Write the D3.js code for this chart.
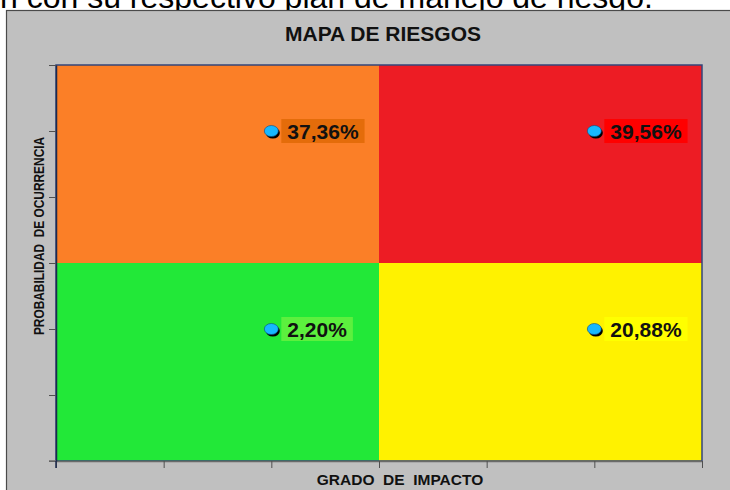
<!doctype html>
<html lang="es">

<head>
    <meta charset="utf-8">
    <title>Mapa de riesgos</title>
    <script src="https://cdn.jsdelivr.net/npm/d3@7"></script>
    <style>
        body {
            margin: 0;
            background: #ffffff;
        }

        svg {
            display: block;
            font-family: "Liberation Sans", Arial, sans-serif;
        }
    </style>
</head>

<body>
    <svg></svg>

    <script>
        // data
        var impacto = [2, 5, 2, 5];          // x value of each risk point
        var probabilidad = [5, 5, 2, 2];     // y value of each risk point
        var porcentajes = ["37,36%", "39,56%", "2,20%", "20,88%"];
        var axisMax = 6;
        var split = 3;                       // limit between low / high zones
        var tickValues = [0, 1, 2, 3, 4, 5, 6];

        // zones: [x from, x to, y from, y to]
        var zonas = [
            [0, split, split, axisMax],
            [split, axisMax, split, axisMax],
            [0, split, 0, split],
            [split, axisMax, 0, split]
        ];
        var zonaColors = ["#fb7f27", "#ed1c24", "#22e838", "#fff200"];
        var labelColors = ["#e46c0a", "#ff0000", "#5cf03e", "#ffff00"];

        var width = 730;
        var height = 490;

        var svg = d3.select('svg').attr('width', width).attr('height', height);

        // cut off sentence of the document above the chart
        svg.append('text')
            .attr('x', 0)
            .attr('y', 8)
            .attr('font-size', 32)
            .attr('fill', '#000')
            .text('n con su respectivo plan de manejo de riesgo.');

        // grey chart panel
        svg.append('rect')
            .attr('x', 6.5)
            .attr('y', 10.5)
            .attr('width', 740)
            .attr('height', 500)
            .attr('fill', '#c0c0c0')
            .attr('stroke', '#4a4a4a')
            .attr('stroke-width', 1.2);

        var xScale = d3.scaleLinear().domain([0, axisMax]).range([56, 702]);
        var yScale = d3.scaleLinear().domain([0, axisMax]).range([461, 65]);

        // coloured zones
        svg.append('g')
            .selectAll('rect')
            .data(zonas)
            .enter()
            .append('rect')
            .attr('x', function (d) { return xScale(d[0]); })
            .attr('y', function (d) { return yScale(d[3]); })
            .attr('width', function (d) { return xScale(d[1]) - xScale(d[0]); })
            .attr('height', function (d) { return yScale(d[2]) - yScale(d[3]); })
            .attr('fill', function (d, i) { return zonaColors[i]; });

        // plot frame
        svg.append('rect')
            .attr('x', xScale(0))
            .attr('y', yScale(axisMax))
            .attr('width', xScale(axisMax) - xScale(0))
            .attr('height', yScale(0) - yScale(axisMax))
            .attr('fill', 'none')
            .attr('stroke', '#34457a')
            .attr('stroke-width', 1.5);

        // axes
        var xAxis = d3.axisBottom(xScale).tickValues(tickValues).tickFormat('').tickSize(7).tickSizeOuter(0);
        var yAxis = d3.axisLeft(yScale).tickValues(tickValues).tickFormat('').tickSize(7).tickSizeOuter(0);

        var gx = svg.append('g')
            .attr('transform', 'translate(0,' + yScale(0) + ')')
            .call(xAxis);
        gx.select('.domain').attr('stroke', '#6a6a6a').attr('stroke-width', 1.5);
        gx.selectAll('.tick line').attr('stroke', '#505050');

        var gy = svg.append('g')
            .attr('transform', 'translate(' + xScale(0) + ',0)')
            .call(yAxis);
        gy.select('.domain').attr('stroke', '#1c2a4e').attr('stroke-width', 1.5);
        gy.selectAll('.tick line').attr('stroke', '#505050');

        // extra stubs of the axis lines (tick at origin)
        svg.append('line')
            .attr('x1', xScale(0) - 7).attr('x2', xScale(0))
            .attr('y1', yScale(0)).attr('y2', yScale(0))
            .attr('stroke', '#6a6a6a').attr('stroke-width', 1.5);
        svg.append('line')
            .attr('x1', xScale(0)).attr('x2', xScale(0))
            .attr('y1', yScale(0)).attr('y2', yScale(0) + 7)
            .attr('stroke', '#1c2a4e').attr('stroke-width', 1.5);

        // points
        var puntos = svg.append('g')
            .selectAll('g')
            .data(porcentajes)
            .enter()
            .append('g')
            .attr('transform', function (d, i) {
                return 'translate(' + xScale(impacto[i]) + ',' + yScale(probabilidad[i]) + ')';
            });

        // labels
        puntos.append('rect')
            .attr('class', 'label-bg')
            .attr('x', 10)
            .attr('y', -12)
            .attr('height', 24)
            .attr('fill', function (d, i) { return labelColors[i]; });

        puntos.append('text')
            .attr('x', 16)
            .attr('y', 7.5)
            .attr('font-size', 21)
            .attr('font-weight', 'bold')
            .attr('fill', '#111')
            .text(function (d) { return d; });

        puntos.each(function () {
            var g = d3.select(this);
            var w = g.select('text').node().getComputedTextLength();
            g.select('.label-bg').attr('width', w + 12);
        });

        puntos.append('ellipse')
            .attr('cx', 1.5)
            .attr('cy', 2)
            .attr('rx', 7)
            .attr('ry', 5.5)
            .attr('fill', '#000');

        puntos.append('ellipse')
            .attr('cx', 0)
            .attr('cy', 0)
            .attr('rx', 7)
            .attr('ry', 5.5)
            .attr('fill', '#16b8ff')
            .attr('stroke', '#0b4a80')
            .attr('stroke-width', 0.6);

        // titles
        svg.append('text')
            .attr('x', 383)
            .attr('y', 41)
            .attr('text-anchor', 'middle')
            .attr('font-size', 21)
            .attr('font-weight', 'bold')
            .attr('fill', '#111')
            .text('MAPA DE RIESGOS');

        svg.append('text')
            .attr('x', 400)
            .attr('y', 485)
            .attr('text-anchor', 'middle')
            .attr('font-size', 15.5)
            .attr('font-weight', 'bold')
            .attr('fill', '#111')
            .style('white-space', 'pre')
            .text('GRADO  DE  IMPACTO');

        svg.append('text')
            .attr('transform', 'translate(44,' + 236 + ') rotate(-90) scale(0.85,1)')
            .attr('text-anchor', 'middle')
            .attr('font-size', 14)
            .attr('font-weight', 'bold')
            .attr('fill', '#111')
            .style('white-space', 'pre')
            .text('PROBABILIDAD  DE OCURRENCIA');
    </script>

</body>

</html>
